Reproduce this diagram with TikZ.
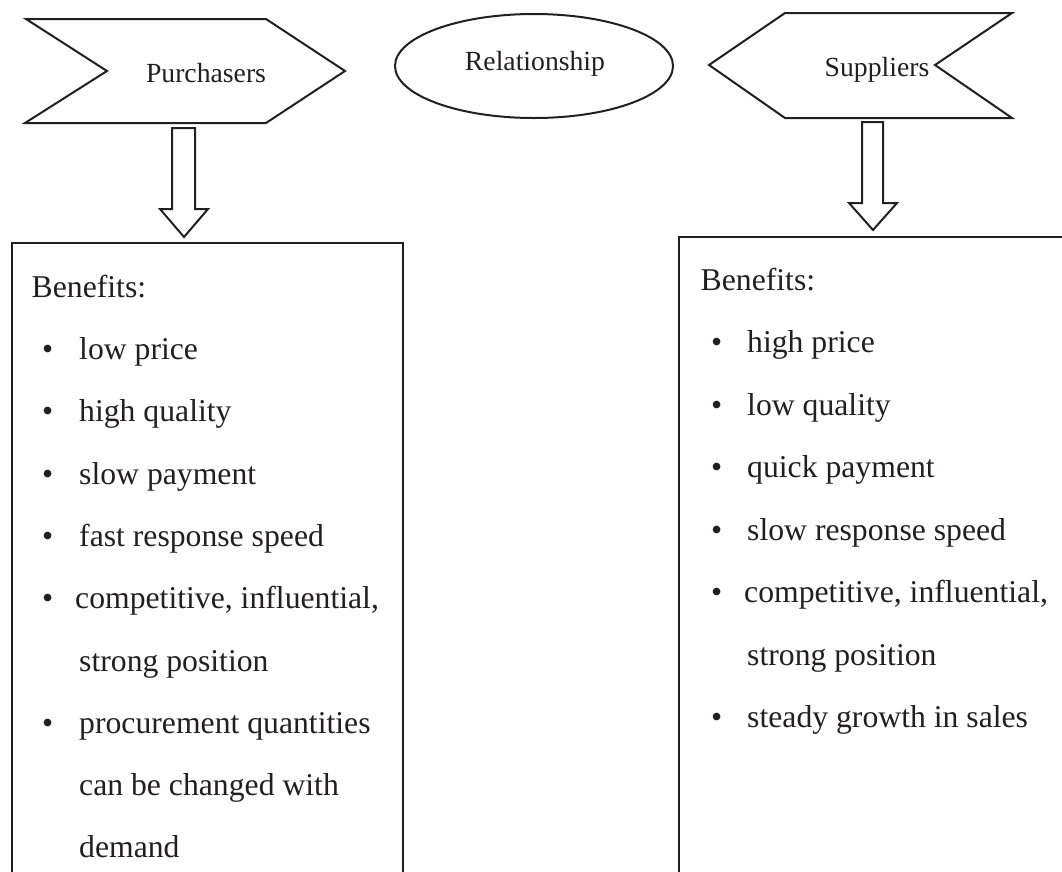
\documentclass[tikz,border=0pt]{standalone}
\usepackage{fontspec}
\setmainfont{Liberation Serif}
\definecolor{ink}{HTML}{231F20}
\begin{document}
\begin{tikzpicture}[x=1pt,y=-1pt,
  outline/.style={draw=ink, line width=2pt, line join=miter},
  lbl/.style={font=\fontsize{27.7}{30}\selectfont, text=ink, inner sep=0, anchor=base},
  bodytxt/.style={font=\fontsize{31.7}{36}\selectfont, text=ink, inner sep=0, anchor=base west},
  dot/.style={font=\fontsize{31.7}{36}\selectfont, text=ink, inner sep=0, anchor=base west}]
\useasboundingbox (0,0) rectangle (1062,871);

% Purchasers chevron
\draw[outline] (26,19) -- (266,19) -- (345,71) -- (266,123) -- (25,123) -- (107,71) -- cycle;
\node[lbl] (pur) at (206,82) {Purchasers};

% Relationship ellipse
\draw[outline] (534,66) ellipse [x radius=139, y radius=52];
\node[lbl] (rel) at (535,70) {Relationship};

% Suppliers chevron
\draw[outline] (709,65) -- (785,13) -- (1012,13) -- (935,65) -- (1012,118) -- (785,118) -- cycle;
\node[lbl] (sup) at (877,76) {Suppliers};

% block arrows
\draw[outline] (172,128) -- (195,128) -- (195,209) -- (208,209) -- (184,237) -- (160,209) -- (172,209) -- cycle;
\draw[outline] (862,122) -- (883,122) -- (883,203) -- (897,203) -- (873,230) -- (849,203) -- (862,203) -- cycle;

% boxes (open at the bottom / right, cut by the page)
\draw[outline] (12,875) -- (12,243) -- (403,243) -- (403,875);
\draw[outline] (679,875) -- (679,237) -- (1070,237);

% left box text
\node[bodytxt] (lb0) at (31.5,297) {Benefits:};
\foreach \y/\t in {359/low price, 421/high quality, 484/slow payment, 546/fast response speed, 733/procurement quantities}
  {\node[dot] at (42,\y) {•}; \node[bodytxt] at (79,\y) {\t};}
\node[dot] at (42,608) {•};
\node[bodytxt] (lb5) at (75,608) {competitive, influential,};
\node[bodytxt] (lb6) at (79,671) {strong position};
\node[bodytxt] (lb8) at (79,795) {can be changed with};
\node[bodytxt] (lb9) at (79,857) {demand};

% right box text
\node[bodytxt] (rb0) at (700.5,290) {Benefits:};
\foreach \y/\t in {352.5/high price, 415/low quality, 477.5/quick payment, 540/slow response speed, 727.5/steady growth in sales}
  {\node[dot] at (711,\y) {•}; \node[bodytxt] at (747,\y) {\t};}
\node[dot] at (711,602.5) {•};
\node[bodytxt] (rb5) at (744,602.5) {competitive, influential,};
\node[bodytxt] (rb6) at (747,665) {strong position};
\end{tikzpicture}
\end{document}
